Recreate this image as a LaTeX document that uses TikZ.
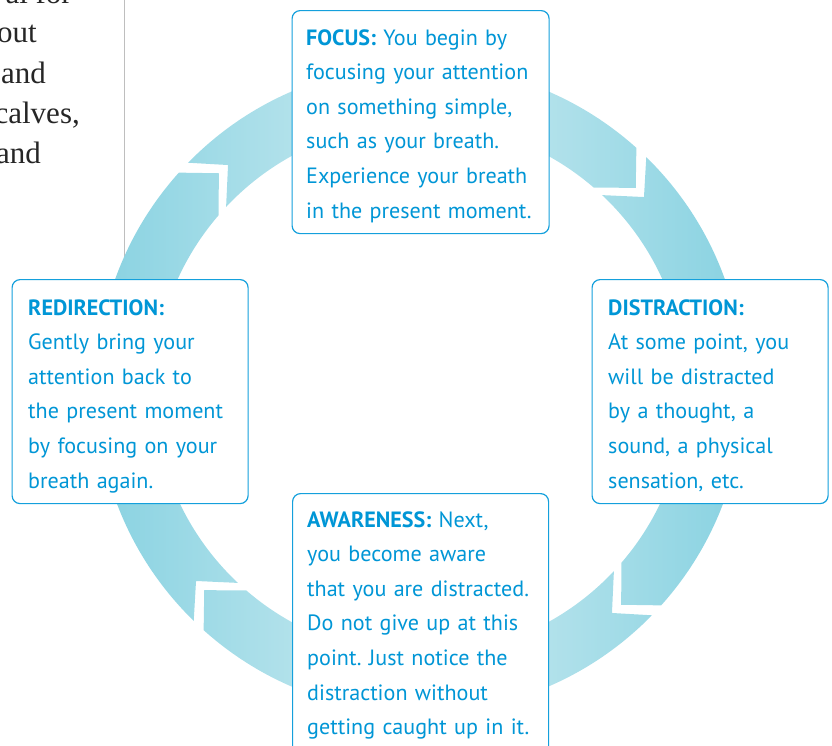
\documentclass[tikz,border=0pt]{standalone}
\usepackage{fontspec}
\setmainfont{PT Sans}
\newfontfamily\serifside{Liberation Serif}
\frenchspacing
\definecolor{txtblue}{RGB}{0,150,214}
\definecolor{boxblue}{RGB}{20,160,220}
\definecolor{ringdark}{RGB}{136,210,225}
\definecolor{ringlight}{RGB}{204,235,241}
\definecolor{rulegray}{RGB}{190,190,190}
\newcommand{\ringseg}[2]{%
  ({#1}:295) -- ({#1+5.1}:324)
    arc[start angle={#1+5.1}, end angle={#2+5.1}, radius=324]
    -- ({#2}:295) -- ({#2+6.2}:266)
    arc[start angle={#2+6.2}, end angle={#1+6.2}, radius=266] -- cycle}
\begin{document}
\begin{tikzpicture}[x=1pt,y=1pt,
  cardbox/.style={draw=boxblue, line width=1.2pt, fill=white, rounded corners=8pt,
    rectangle, inner sep=0pt, anchor=north west},
  cardtext/.style={anchor=base west, inner sep=0pt, text width=250pt, align=left,
    text=txtblue, font=\fontsize{22.1}{34.6}\selectfont},
  sidetext/.style={anchor=base east, inner sep=0pt,
    font=\serifside\fontsize{31}{40}\selectfont, text=black!85}]
\useasboundingbox (0,0) rectangle (832,-745);
\clip (0,0) rectangle (832,-745);
% side paragraph fragment
\node[sidetext] (s1) at (72,-3) {al for};
\node[sidetext] (s2) at (37,-42) {out};
\node[sidetext] (s3) at (46,-83) {and};
\node[sidetext] (s4) at (80,-123) {calves,};
\node[sidetext] (s5) at (41,-163) {and};
\draw[rulegray, line width=1.5pt] (124.5,0) coordinate (ruletop) -- (124.5,-265) coordinate (rulebot);
% ring of arrows (one horizontal gradient over the whole ring)
\begin{scope}[shift={(420,-389)}]
  \begin{scope}
    \clip \ringseg{130.6}{43} \ringseg{40.6}{-47} \ringseg{-49.4}{-137} \ringseg{220.6}{133};
    \shade[left color=ringdark, right color=ringdark, middle color=ringlight]
      (-326,-326) rectangle (326,326);
  \end{scope}
\end{scope}
% boxes
\node[cardbox, minimum width=257pt, minimum height=223pt] (focus) at (291.5,-10) {};
\node[cardbox, minimum width=236pt, minimum height=224pt] (redir) at (11.5,-279) {};
\node[cardbox, minimum width=236pt, minimum height=224pt] (distr) at (591.5,-279) {};
\node[cardbox, minimum width=256pt, minimum height=262pt] (aware) at (292,-493) {};
% texts
\node[cardtext] (focust) at (306,-45) {\textbf{FOCUS:} You begin by\\ focusing your attention\\ on something simple,\\ such as your breath.\\ Experience your breath\\ in the present moment.};
\node[cardtext] (redirt) at (28,-315) {\textbf{REDIRECTION:}\\ Gently bring your\\ attention back to\\ the present moment\\ by focusing on your\\ breath again.};
\node[cardtext] (distrt) at (608,-315) {\textbf{DISTRACTION:}\\ At some point, you\\ will be distracted\\ by a thought, a\\ sound, a physical\\ sensation, etc.};
\node[cardtext] (awaret) at (307,-527) {\textbf{AWARENESS:} Next,\\ you become aware\\ that you are distracted.\\ Do not give up at this\\ point. Just notice the\\ distraction without\\ getting caught up in it.};
\end{tikzpicture}
\end{document}
